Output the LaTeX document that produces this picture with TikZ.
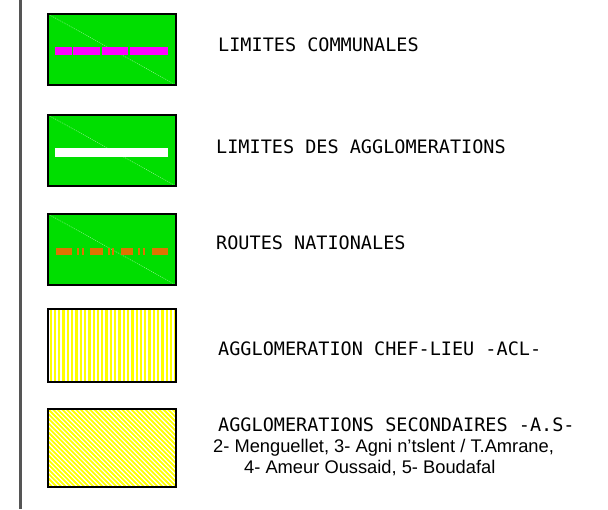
\documentclass[tikz,border=0pt]{standalone}
\usepackage{fontspec}
\setmainfont{Liberation Sans}
\newfontfamily\legmono{DejaVu Sans Mono}
\definecolor{legGreen}{RGB}{0,222,0}
\definecolor{legMag}{RGB}{255,0,255}
\definecolor{legOrange}{RGB}{222,115,0}
\definecolor{legYellow}{RGB}{255,255,0}
\definecolor{legDiag}{RGB}{150,240,150}
\definecolor{legAxis}{RGB}{85,85,85}
\begin{document}
\begin{tikzpicture}[x=1pt,y=-1pt,
  swatch/.style={minimum width=128pt, inner sep=0pt, outer sep=0pt, anchor=north west},
  greenbox/.style={swatch, fill=legGreen},
  whitebox/.style={swatch, fill=white},
  boxline/.style={draw=black, line width=1.6pt},
  diagline/.style={draw=legDiag, line width=0.5pt, dash pattern=on 1pt off 1pt},
  lab/.style={anchor=base west, inner sep=0pt, font=\legmono\fontsize{18.5}{21}\selectfont},
  sub/.style={anchor=base west, inner sep=0pt, font=\fontsize{18.3}{21}\selectfont}]
\useasboundingbox (0,0) rectangle (608,509);
\fill[white] (0,0) rectangle (608,509);
% axis line
\coordinate (axtop) at (20.3,0);
\coordinate (axbot) at (20.3,509);
\draw[legAxis, line width=2.4pt] (axtop) -- (axbot);

% box 1
\node[greenbox, minimum height=71pt] (b1) at (48,14) {};
\draw[diagline] (b1.north west) -- (b1.south east);
\foreach \a/\b in {55/71.5, 73/100, 101.5/128, 129.5/168}
  \fill[legMag] (\a,47) rectangle (\b,55);
\draw[boxline] (b1.north west) rectangle (b1.south east);
\node[lab] (t1) at (218,51) {LIMITES COMMUNALES};

% box 2
\node[greenbox, minimum height=71pt] (b2) at (48,115) {};
\draw[diagline] (b2.north west) -- (b2.south east);
\fill[white] (55,148.3) rectangle (168,156.7);
\draw[boxline] (b2.north west) rectangle (b2.south east);
\node[lab] (t2) at (216,153) {LIMITES DES AGGLOMERATIONS};

% box 3
\node[greenbox, minimum height=71pt] (b3) at (48,214) {};
\draw[diagline] (b3.north west) -- (b3.south east);
\foreach \a/\b in {55.7/71.7, 76.8/78.6, 82.4/84.2, 90/102.7, 108.1/109.9, 112.4/114.2, 120.7/133.3, 138.4/140.2, 143.4/145.2, 151.7/168.3}
  \fill[legOrange] (\a,247.7) rectangle (\b,255);
\draw[boxline] (b3.north west) rectangle (b3.south east);
\node[lab] (t3) at (216,249) {ROUTES NATIONALES};

% box 4
\node[whitebox, minimum height=73pt] (b4) at (48,309) {};
\begin{scope}
  \clip (b4.north west) rectangle (b4.south east);
  \foreach \i in {0,...,29}
    \fill[legYellow] (49.5+\i*4.3,309) rectangle ++(2.3,73);
\end{scope}
\draw[boxline] (b4.north west) rectangle (b4.south east);
\node[lab] (t4) at (218,355) {AGGLOMERATION CHEF-LIEU -ACL-};

% box 5
\node[whitebox, minimum height=78pt] (b5) at (48,409) {};
\begin{scope}
  \clip (b5.north west) rectangle (b5.south east);
  \foreach \i in {-20,...,30}
    \draw[legYellow, line width=1.8pt] (48+\i*4.6,409) -- ++(80,80);
\end{scope}
\draw[boxline] (b5.north west) rectangle (b5.south east);
\node[lab] (t5) at (218,431) {AGGLOMERATIONS SECONDAIRES -A.S-};
\node[sub] (t6) at (213,452) {2- Menguellet, 3- Agni n'tslent / T.Amrane,};
\node[sub] (t7) at (244,473) {4- Ameur Oussaid, 5- Boudafal};
\end{tikzpicture}
\end{document}
